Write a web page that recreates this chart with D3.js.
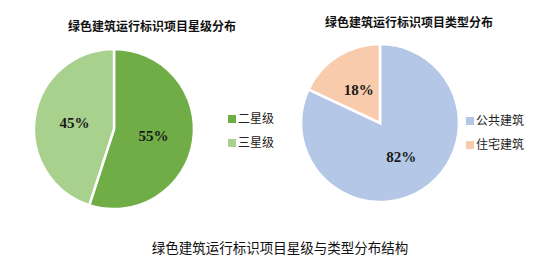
<!DOCTYPE html>
<html lang="zh">
<head>
  <meta charset="UTF-8">
  <script src="https://d3js.org/d3.v7.min.js"></script>
  <title>绿色建筑运行标识项目星级与类型分布结构</title>
  <style>
    body { margin: 0; background: #fff; }
    svg { display: block; }
  </style>
</head>
<body>
  <svg width="536" height="280"></svg>
  <script>
    // 左图：星级分布
    const starLabels = ["二星级", "三星级"];
    const starValues = [55, 45];
    const starColors = ["#70AD47", "#A9D18E"];

    // 右图：类型分布
    const typeLabels = ["公共建筑", "住宅建筑"];
    const typeValues = [82, 18];
    const typeColors = ["#B4C7E7", "#F8CBAD"];

    const svg = d3.select("svg");
    const cjk = "'Noto Sans CJK SC', 'Noto Sans', sans-serif";

    const drawPie = (opt) => {
      const g = svg.append("g").attr("transform", `translate(${opt.cx},${opt.cy})`);
      const pie = d3.pie().sort(null).value(d => d.value);
      const arc = d3.arc().innerRadius(0).outerRadius(opt.r);
      const labelArc = d3.arc().innerRadius(opt.r * 0.5).outerRadius(opt.r * 0.5);
      const color = d3.scaleOrdinal().domain(opt.labels).range(opt.colors);
      const data = opt.labels.map((k, i) => ({ key: k, value: opt.values[i] }));
      const arcs = pie(data);

      g.selectAll("path")
        .data(arcs)
        .enter()
        .append("path")
        .attr("d", arc)
        .attr("fill", d => color(d.data.key))
        .attr("stroke", "#fff")
        .attr("stroke-width", 2.5);

      g.selectAll("text.pct")
        .data(arcs)
        .enter()
        .append("text")
        .attr("class", "pct")
        .attr("transform", d => `translate(${labelArc.centroid(d)})`)
        .attr("text-anchor", "middle")
        .attr("dy", "0.35em")
        .style("font-family", "'Liberation Serif', serif")
        .style("font-weight", "bold")
        .style("font-size", "15px")
        .attr("fill", "#1a1a1a")
        .text(d => d.data.value + "%");

      // 标题
      svg.append("text")
        .attr("x", opt.tx)
        .attr("y", opt.ty)
        .attr("text-anchor", "middle")
        .style("font-family", cjk)
        .style("font-weight", "bold")
        .style("font-size", "12px")
        .attr("fill", "#111")
        .text(opt.title);

      // 图例
      const lg = svg.append("g").attr("transform", `translate(${opt.lx},${opt.ly})`);
      const item = lg.selectAll("g")
        .data(opt.labels)
        .enter()
        .append("g")
        .attr("transform", (d, i) => `translate(0,${i * 24})`);
      item.append("rect")
        .attr("x", 0).attr("y", -4)
        .attr("width", 8).attr("height", 8)
        .attr("fill", d => color(d));
      item.append("text")
        .attr("x", 10)
        .attr("dy", "0.35em")
        .style("font-family", cjk)
        .style("font-size", "12px")
        .attr("fill", "#222")
        .text(d => d);
    };

    drawPie({
      labels: starLabels, values: starValues, colors: starColors,
      cx: 114, cy: 129, r: 80,
      title: "绿色建筑运行标识项目星级分布", tx: 152, ty: 31,
      lx: 228, ly: 119
    });

    drawPie({
      labels: typeLabels, values: typeValues, colors: typeColors,
      cx: 380, cy: 123, r: 79,
      title: "绿色建筑运行标识项目类型分布", tx: 409, ty: 27,
      lx: 466, ly: 121
    });

    svg.append("text")
      .attr("x", 280)
      .attr("y", 253)
      .attr("text-anchor", "middle")
      .style("font-family", cjk)
      .style("font-size", "13.5px")
      .attr("fill", "#111")
      .text("绿色建筑运行标识项目星级与类型分布结构");
  </script>
</body>
</html>
